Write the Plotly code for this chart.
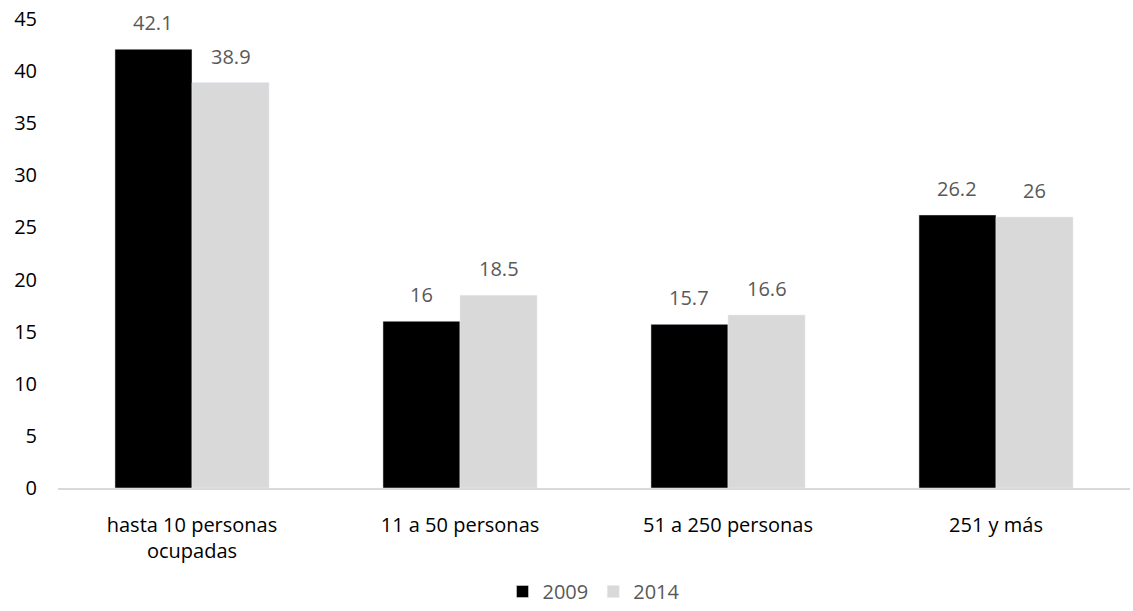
import plotly.graph_objects as go

categories = ["hasta 10 personas<br>ocupadas", "11 a 50 personas", "51 a 250 personas", "251 y más"]
values_2009 = [42.1, 16, 15.7, 26.2]
values_2014 = [38.9, 18.5, 16.6, 26]
labels_2009 = ["42.1", "16", "15.7", "26.2"]
labels_2014 = ["38.9", "18.5", "16.6", "26"]
y_ticks = [0, 5, 10, 15, 20, 25, 30, 35, 40, 45]

FONT = "Open Sans"
SIZE = 20
WIDTH, HEIGHT = 1133, 611
MARGIN = dict(l=58, r=3, t=19, b=123)
BARGAP = 0.425

fig = go.Figure()
fig.add_trace(go.Bar(name="2009", x=categories, y=values_2009,
                     marker=dict(color="#000000")))
fig.add_trace(go.Bar(name="2014", x=categories, y=values_2014,
                     marker=dict(color="#d9d9d9")))

# value labels sit above each bar, shifted to the centre of its bar within the group
plot_w = WIDTH - MARGIN["l"] - MARGIN["r"]
bar_px = plot_w / len(categories) * (1 - BARGAP) / 2
for shift, vals, labs in ((-bar_px / 2, values_2009, labels_2009),
                          (bar_px / 2, values_2014, labels_2014)):
    for cat, v, lab in zip(categories, vals, labs):
        fig.add_annotation(x=cat, y=v, text=lab, showarrow=False,
                           xshift=shift, yshift=11, yanchor="bottom",
                           font=dict(color="#595959", size=SIZE, family=FONT))

fig.update_layout(
    width=WIDTH, height=HEIGHT,
    margin=MARGIN, autosize=False,
    paper_bgcolor="white", plot_bgcolor="white",
    barmode="group", bargap=BARGAP, bargroupgap=0,
    font=dict(family=FONT, size=SIZE, color="#000000"),
    showlegend=True,
    legend=dict(
        orientation="h", x=0.5, xanchor="center",
        yref="container", y=0.0, yanchor="bottom",
        font=dict(color="#595959", size=SIZE, family=FONT),
        traceorder="normal",
    ),
    xaxis=dict(
        showline=True, linecolor="#d9d9d9", linewidth=2,
        showgrid=False, ticks="", ticklabelstandoff=18, automargin=False,
        tickfont=dict(size=SIZE, color="#000000"),
    ),
    yaxis=dict(
        range=[0, 45], tickvals=y_ticks, showgrid=False, zeroline=False,
        showline=False, ticks="", ticklabelstandoff=20, automargin=False,
        tickfont=dict(size=SIZE, color="#000000"),
    ),
)

fig.write_html("out.html")
